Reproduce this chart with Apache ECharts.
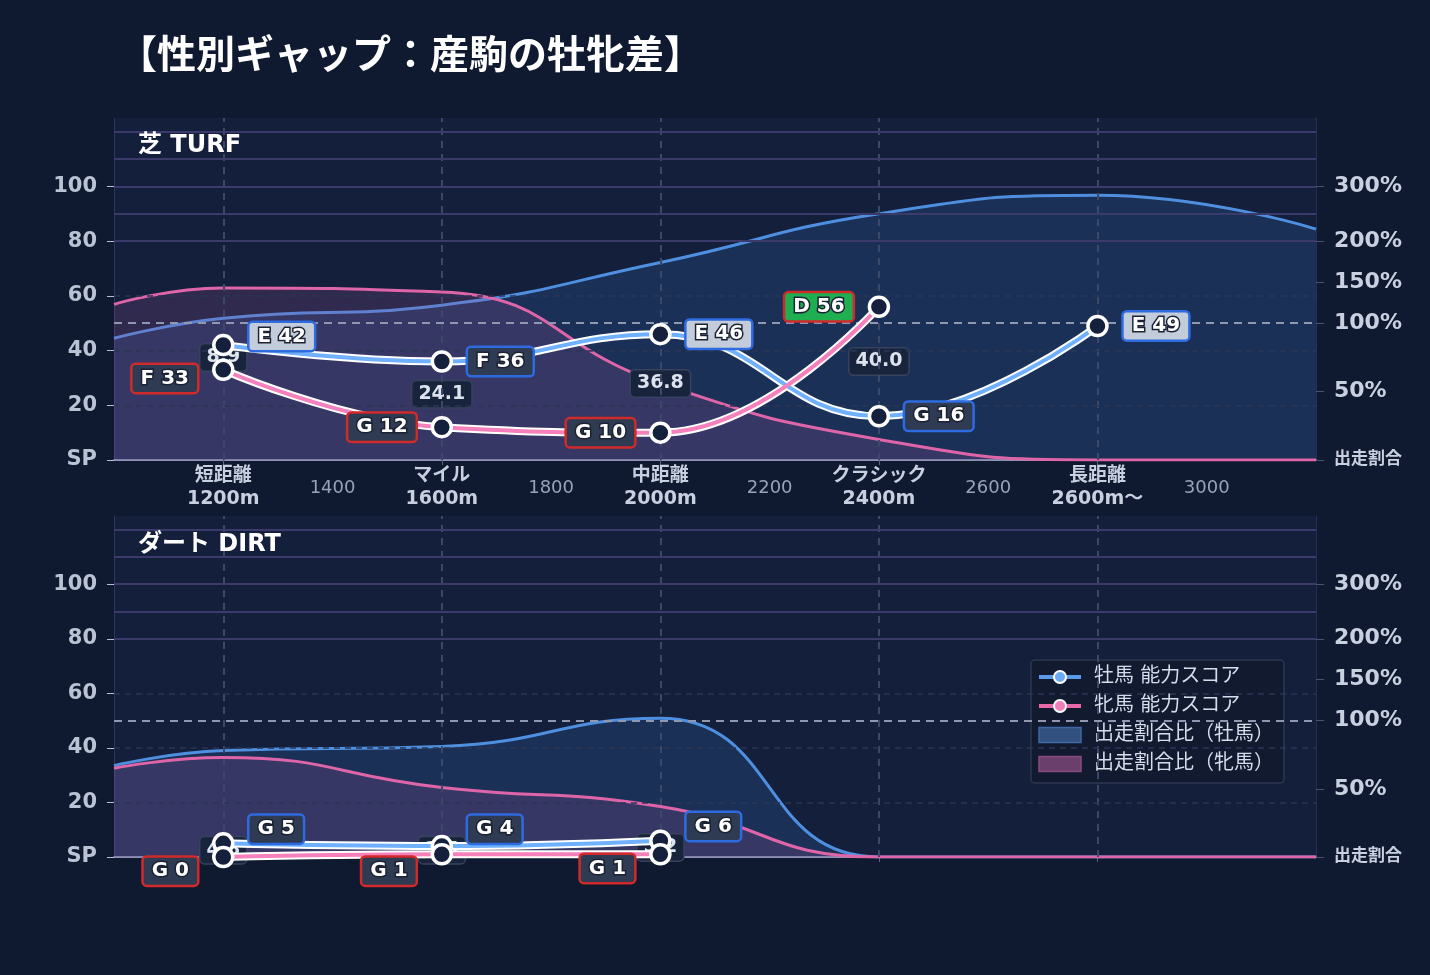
<!DOCTYPE html>
<html>
<head>
<meta charset="utf-8">
<script src="https://cdn.jsdelivr.net/npm/echarts@6/dist/echarts.min.js"></script>
<style>
html, body { margin: 0; padding: 0; background: #0f1930; }
#chart { width: 1430px; height: 975px; }
</style>
</head>
<body>
<div id="chart"></div>
<script>
// 距離区分
var categoryDist = [1200, 1600, 2000, 2400, 2800];
var categoryNames = ['短距離', 'マイル', '中距離', 'クラシック', '長距離'];
var categoryMeters = ['1200m', '1600m', '2000m', '2400m', '2600m〜'];
var minorDist = [1400, 1800, 2200, 2600, 3000];

// 能力スコア（芝）
var turfMaleScore = [42, 36, 46, 16, 49];
var turfMaleGrade = ['E', 'F', 'E', 'G', 'E'];
var turfFemaleScore = [33, 12, 10, 56, null];
var turfFemaleGrade = ['F', 'G', 'G', 'D', null];
var turfGap = [8.9, 24.1, 36.8, 40.0, null];

// 能力スコア（ダート）
var dirtMaleScore = [5, 4, 6, null, null];
var dirtMaleGrade = ['G', 'G', 'G', null, null];
var dirtFemaleScore = [0, 1, 1, null, null];
var dirtFemaleGrade = ['G', 'G', 'G', null, null];
var dirtGap = [4.8, 3.5, 5.2, null, null];

// 出走割合比（%）
var ratioDist = [1000, 1200, 1600, 2000, 2400, 2800, 3200];
var turfMaleRatio = [89, 106, 122, 174, 250, 284, 222];
var turfFemaleRatio = [123, 143, 138, 56, 15, 0, 0];
var dirtMaleRatio = [67, 78, 81, 103, 0, 0, 0];
var dirtFemaleRatio = [65, 73, 51, 37, 0, 0, 0];

// 右軸の目盛り
var ratioTicks = [0, 50, 100, 150, 200, 300];

var FONT = '"DejaVu Sans", "Noto Sans CJK JP", sans-serif';
var gradeBg = { D: '#1fae50', E: '#c3ccda', F: '#2e3b52', G: '#2e3b52' };
var MALE_LINE = '#6fb0ff', FEMALE_LINE = '#f580bb';

// 出走割合比 -> 左軸の座標（100%=50, 200%=80, 300%=100）
function ratioToAxis(p) {
	var r = p / 100;
	if (r <= 1) return 50 * r;
	if (r <= 2) return 50 + 30 * (r - 1);
	return 80 + 20 * (r - 2);
}

var chart = echarts.init(document.getElementById('chart'));

var grids = [
	{ left: 114, right: 114, top: 118, height: 342, show: true, backgroundColor: '#131f3b', borderWidth: 0 },
	{ left: 114, right: 114, top: 516, height: 341, show: true, backgroundColor: '#131f3b', borderWidth: 0 }
];

function makeXAxis(g) {
	return {
		type: 'value', gridIndex: g, min: 1000, max: 3200, interval: 200,
		axisLine: { show: true, onZero: false, lineStyle: { color: '#b9bcdb', width: 1.5 } },
		axisTick: { show: true, customValues: categoryDist, length: 5, lineStyle: { color: '#5a6380' } },
		splitLine: { show: false },
		axisLabel: {
			show: g === 0,
			margin: 5,
			customValues: [1200, 1400, 1600, 1800, 2000, 2200, 2400, 2600, 2800, 3000],
			formatter: function (v) {
				var i = categoryDist.indexOf(v);
				if (i >= 0) return '{c|' + categoryNames[i] + '}\n{c|' + categoryMeters[i] + '}';
				return '{m|' + v + '}';
			},
			rich: {
				c: { fontFamily: FONT, fontSize: 19, fontWeight: 'bold', color: '#c8d0e0', lineHeight: 23 },
				m: { fontFamily: FONT, fontSize: 18, color: '#98a3b8', lineHeight: 46 }
			}
		}
	};
}

function makeYAxes(g) {
	return [{
		type: 'value', gridIndex: g, min: 0, max: 125, position: 'left',
		axisLine: { show: true, lineStyle: { color: '#30355c', width: 1 } },
		axisTick: { show: true, customValues: [0, 20, 40, 60, 80, 100], length: 7, lineStyle: { color: '#b8c0d2' } },
		splitLine: { show: false },
		axisLabel: {
			customValues: [0, 20, 40, 60, 80, 100], margin: 17,
			fontFamily: FONT, fontSize: 21, fontWeight: 'bold', color: '#b9c3d3',
			formatter: function (v) { return v === 0 ? 'SP' : v; }
		}
	}, {
		type: 'value', gridIndex: g, min: 0, max: 125, position: 'right',
		axisLine: { show: true, lineStyle: { color: '#24305a', width: 1 } },
		axisTick: { show: true, customValues: ratioTicks.map(ratioToAxis), length: 8, lineStyle: { color: '#4a5470' } },
		splitLine: { show: false },
		axisLabel: {
			customValues: ratioTicks.map(ratioToAxis), margin: 18,
			formatter: function (v) {
				for (var i = 0; i < ratioTicks.length; i++) {
					if (Math.abs(ratioToAxis(ratioTicks[i]) - v) < 0.01) {
						return ratioTicks[i] === 0 ? '{s|出走割合}' : '{p|' + ratioTicks[i] + '%}';
					}
				}
				return '';
			},
			rich: {
				p: { fontFamily: FONT, fontSize: 22, fontWeight: 'bold', color: '#c9d1e0' },
				s: { fontFamily: FONT, fontSize: 17, fontWeight: 'bold', color: '#c9d1e0' }
			}
		}
	}];
}

function guideLines() {
	var data = [];
	categoryDist.forEach(function (d) {
		data.push({ xAxis: d, lineStyle: { color: '#3b4868', width: 2, type: [7, 6] } });
	});
	[80, 90, 100, 110, 120].forEach(function (v) {
		data.push({ yAxis: v, lineStyle: { color: '#3c3a6a', width: 2, type: 'solid' } });
	});
	[20, 40, 60].forEach(function (v) {
		data.push({ yAxis: v, lineStyle: { color: '#2b3656', width: 1.5, type: [6, 5] } });
	});
	data.push({ yAxis: 50, lineStyle: { color: '#9097b0', width: 2, type: [8, 6] } });
	return { silent: true, symbol: 'none', label: { show: false }, animation: false, data: data };
}

function buildPanel(g, pxPerUnit, maleScore, maleGrade, femaleScore, femaleGrade, gap, maleRatio, femaleRatio) {
	var xi = g, yi = g * 2;
	var series = [];

	series.push({
		type: 'line', name: '出走割合比（牡馬）', xAxisIndex: xi, yAxisIndex: yi,
		smooth: 0.5, symbol: 'none', silent: true, z: 1,
		data: ratioDist.map(function (d, i) { return [d, ratioToAxis(maleRatio[i])]; }),
		lineStyle: { color: '#4f8fe0', width: 3 },
		itemStyle: { color: '#4f8fe0' },
		areaStyle: { color: 'rgba(62,112,190,0.30)' },
		markLine: guideLines()
	});
	series.push({
		type: 'line', name: '出走割合比（牝馬）', xAxisIndex: xi, yAxisIndex: yi,
		smooth: 0.5, symbol: 'none', silent: true, z: 2,
		data: ratioDist.map(function (d, i) { return [d, ratioToAxis(femaleRatio[i])]; }),
		lineStyle: { color: '#df65a9', width: 3 },
		itemStyle: { color: '#df65a9' },
		areaStyle: { color: 'rgba(150,80,150,0.32)' }
	});

	// 差分ラベル（中間位置）
	var gapData = [];
	gap.forEach(function (v, i) {
		if (v == null) return;
		gapData.push({ value: [categoryDist[i], (maleScore[i] + femaleScore[i]) / 2], label: { formatter: v.toFixed(1) } });
	});
	series.push({
		type: 'scatter', name: 'gap', xAxisIndex: xi, yAxisIndex: yi, z: 4, silent: true,
		symbolSize: 1, itemStyle: { color: 'transparent' },
		label: {
			show: true, position: 'inside', fontFamily: FONT, fontSize: 19, fontWeight: 'bold', color: '#dde3ee', opacity: 1,
			backgroundColor: '#18233c', borderColor: '#37435d', borderWidth: 1.5, borderRadius: 4, padding: [4, 6, 3, 6]
		},
		data: gapData
	});

	function scoreSeries(name, scores, grades, other, color, border, isMale) {
		var pts = [], items = [];
		scores.forEach(function (v, i) {
			if (v == null) return;
			pts.push([categoryDist[i], v]);
			var shift = 0;
			if (other[i] != null) {
				var gapPx = Math.abs(v - other[i]) * pxPerUnit;
				if (gapPx < 42) shift = (42 - gapPx) / 2;
				if (v < other[i] || (v === other[i] && !isMale)) shift = -shift;
			}
			items.push({
				value: [categoryDist[i], v],
				label: {
					formatter: grades[i] + ' ' + v,
					offset: [0, -shift],
					backgroundColor: gradeBg[grades[i]]
				}
			});
		});
		return [{
			type: 'line', name: name + '_outline', xAxisIndex: xi, yAxisIndex: yi, z: 5, silent: true,
			smooth: 0.45, symbol: 'none', data: pts,
			lineStyle: { color: '#ffffff', width: 8 }
		}, {
			type: 'line', name: name, xAxisIndex: xi, yAxisIndex: yi, z: 6,
			smooth: 0.45, symbol: 'circle', symbolSize: 19, showAllSymbol: true,
			data: items,
			lineStyle: { color: color, width: 4 },
			itemStyle: { color: '#14203c', borderColor: '#ffffff', borderWidth: 3.5 },
			label: {
				show: true, position: isMale ? 'right' : 'left', distance: 15,
				fontFamily: FONT, fontSize: 20, fontWeight: 'bold', color: '#ffffff',
				textBorderColor: '#1b2233', textBorderWidth: 3,
				borderColor: border, borderWidth: 2.5, borderRadius: 3, padding: [4, 8, 3, 8]
			}
		}];
	}

	series = series.concat(scoreSeries('牡馬 能力スコア', maleScore, maleGrade, femaleScore, MALE_LINE, '#2f6be0', true));
	series = series.concat(scoreSeries('牝馬 能力スコア', femaleScore, femaleGrade, maleScore, FEMALE_LINE, '#d02a2a', false));
	return series;
}

var series = []
	.concat(buildPanel(0, 342 / 125, turfMaleScore, turfMaleGrade, turfFemaleScore, turfFemaleGrade, turfGap, turfMaleRatio, turfFemaleRatio))
	.concat(buildPanel(1, 341 / 125, dirtMaleScore, dirtMaleGrade, dirtFemaleScore, dirtFemaleGrade, dirtGap, dirtMaleRatio, dirtFemaleRatio));

var option = {
	backgroundColor: '#0f1930',
	animation: false,
	grid: grids,
	xAxis: [makeXAxis(0), makeXAxis(1)],
	yAxis: makeYAxes(0).concat(makeYAxes(1)),
	legend: {
		orient: 'vertical', left: 1031, top: 660,
		backgroundColor: '#111a2f', borderColor: '#2c3752', borderWidth: 1.5, borderRadius: 4,
		padding: [7, 10, 9, 6], itemGap: 9, itemWidth: 42, itemHeight: 15,
		textStyle: { color: '#d5dcea', fontSize: 20, fontFamily: FONT, padding: [0, 0, 0, 8] },
		data: [
			{ name: '牡馬 能力スコア', itemStyle: { color: '#6aaaf5', borderColor: '#ffffff', borderWidth: 2 }, lineStyle: { color: '#5a9ae8', width: 4 } },
			{ name: '牝馬 能力スコア', itemStyle: { color: '#f07fb9', borderColor: '#ffffff', borderWidth: 2 }, lineStyle: { color: '#e868a8', width: 4 } },
			{ name: '出走割合比（牡馬）', icon: 'rect', itemStyle: { color: '#31507f', borderColor: '#4068a8', borderWidth: 1.5 } },
			{ name: '出走割合比（牝馬）', icon: 'rect', itemStyle: { color: '#6b3f6b', borderColor: '#8a4a80', borderWidth: 1.5 } }
		]
	},
	graphic: [
		{ type: 'text', left: 118, top: 34, style: { text: '【性別ギャップ：産駒の牡牝差】', fill: '#ffffff', font: 'bold 39px "Noto Sans CJK JP", sans-serif' } },
		{ type: 'text', left: 138, top: 134, z: 10, style: { text: '芝 TURF', fill: '#ffffff', font: 'bold 24px "DejaVu Sans", "Noto Sans CJK JP", sans-serif' } },
		{ type: 'text', left: 138, top: 533, z: 10, style: { text: 'ダート DIRT', fill: '#ffffff', font: 'bold 24px "DejaVu Sans", "Noto Sans CJK JP", sans-serif' } }
	],
	series: series
};

chart.setOption(option);
</script>
</body>
</html>
